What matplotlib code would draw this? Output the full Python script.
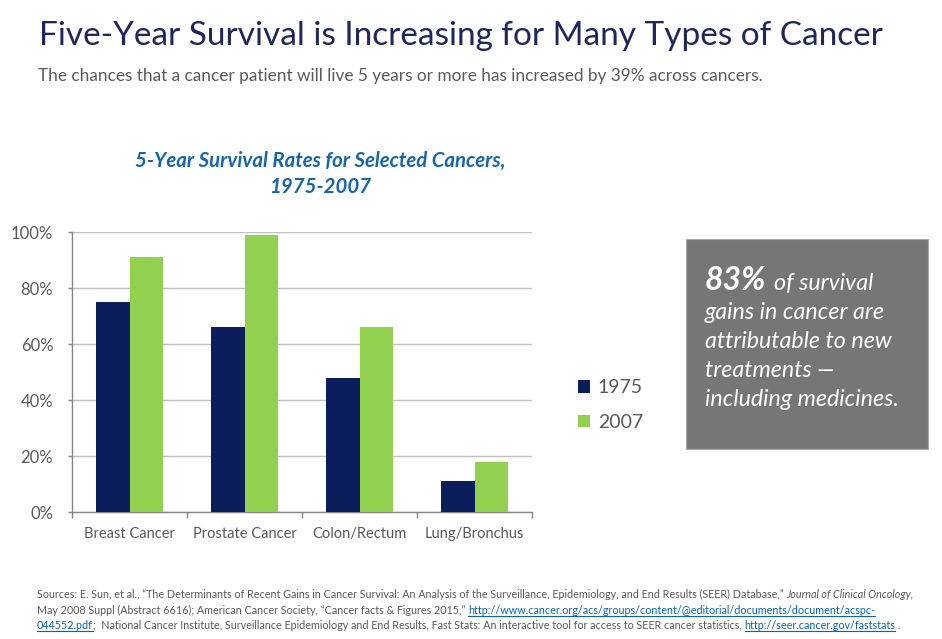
import matplotlib
matplotlib.use("Agg")
import matplotlib.pyplot as plt
import numpy as np
from matplotlib.transforms import IdentityTransform
from matplotlib.lines import Line2D
from matplotlib.patches import Rectangle

# ---------------- data ----------------
categories = ["Breast Cancer", "Prostate Cancer", "Colon/Rectum", "Lung/Bronchus"]
series_names = ["1975", "2007"]
rate_1975 = [75, 66, 48, 11]
rate_2007 = [91, 99, 66, 18]
y_ticks = [0, 20, 40, 60, 80, 100]
y_tick_labels = ["0%", "20%", "40%", "60%", "80%", "100%"]

title = "Five-Year Survival is Increasing for Many Types of Cancer"
subtitle = "The chances that a cancer patient will live 5 years or more has increased by 39% across cancers."
chart_title = ["5-Year Survival Rates for Selected Cancers,", "1975-2007"]

# ---------------- figure ----------------
W, H = 942, 639
plt.rcParams['font.family'] = ['Lato', 'DejaVu Sans']
fig = plt.figure(figsize=(W / 100, H / 100), dpi=100)
fig.patch.set_facecolor('white')
renderer = fig.canvas.get_renderer()
PIX = IdentityTransform()

NAVY = '#0B1D5B'
GREEN = '#92D050'
GRAY_TXT = '#595959'
AXIS_GRAY = '#868686'


def ytop(y):
    return H - y


def fit_width(t, target):
    for _ in range(3):
        w = t.get_window_extent(renderer).width
        t.set_fontsize(t.get_fontsize() * target / w)


# titles
t = fig.text(39, ytop(45), title, transform=PIX, fontsize=27, color='#1F2660',
             va='baseline', ha='left')
fit_width(t, 843)
t = fig.text(38, ytop(81), subtitle, transform=PIX, fontsize=12.5, color=GRAY_TXT,
             va='baseline', ha='left')
fit_width(t, 725)

# chart title
t = fig.text(320, ytop(167), chart_title[0], transform=PIX, fontsize=13,
             color='#1565B0', fontweight='bold', fontstyle='italic',
             va='baseline', ha='center')
fit_width(t, 368)
fs_ct = t.get_fontsize()
fig.text(320, ytop(193), chart_title[1], transform=PIX, fontsize=fs_ct,
         color='#1565B0', fontweight='bold', fontstyle='italic',
         va='baseline', ha='center')

# ---------------- axes ----------------
ax = fig.add_axes([72 / W, 1 - 512.3 / H, 460 / W, 280 / H])
x = np.arange(len(categories))
bw = 0.287
bars1 = ax.bar(x - bw / 2, rate_1975, bw, color=NAVY, label=series_names[0], zorder=3)
bars2 = ax.bar(x + bw / 2, rate_2007, bw, color=GREEN, label=series_names[1], zorder=3)
ax.set_xlim(-0.5, len(categories) - 0.5)
ax.set_ylim(0, 100)
ax.set_yticks(y_ticks)
ax.set_yticklabels(y_tick_labels)
ax.yaxis.grid(True, color='#BFBFBF', lw=1)
ax.set_axisbelow(True)
for s in ['top', 'right']:
    ax.spines[s].set_visible(False)
for s in ['left', 'bottom']:
    ax.spines[s].set_color(AXIS_GRAY)
    ax.spines[s].set_linewidth(1)
ax.set_xticks(np.arange(-0.5, len(categories), 1))
ax.set_xticklabels([])
ax.set_xticks(x, minor=True)
ax.set_xticklabels(categories, minor=True)
ax.tick_params(axis='x', which='major', length=4, direction='out', color=AXIS_GRAY, width=1)
ax.tick_params(axis='x', which='minor', length=0, pad=10.5, labelsize=10.5, labelcolor=GRAY_TXT)
ax.tick_params(axis='y', length=3, direction='out', color=AXIS_GRAY, width=1, pad=10.5,
               labelsize=12, labelcolor=GRAY_TXT)

# legend
leg = ax.legend(handles=[bars1, bars2], labels=series_names, loc='center left',
                bbox_to_anchor=(578 / W, 1 - 405 / H), bbox_transform=fig.transFigure,
                frameon=False, fontsize=14, handlelength=0.62, handleheight=0.62,
                handletextpad=0.4, labelspacing=0.9, borderpad=0, borderaxespad=0)
for txt in leg.get_texts():
    txt.set_color(GRAY_TXT)

# ---------------- callout box ----------------
box = Rectangle((686, ytop(449)), 242, 210, transform=PIX, facecolor='#75767A',
                edgecolor='#A9A9A9', lw=0.8)
fig.add_artist(box)
box_lines = ["gains in cancer are", "attributable to new", "treatments \u2014",
             "including medicines."]
t = fig.text(705, ytop(319), box_lines[0], transform=PIX, fontsize=15, color='white',
             fontstyle='italic', va='baseline', ha='left')
fit_width(t, 179)
fs_box = t.get_fontsize()
for i, line in enumerate(box_lines[1:]):
    fig.text(705, ytop(319 + 29 * (i + 1)), line, transform=PIX, fontsize=fs_box,
             color='white', fontstyle='italic', va='baseline', ha='left')
t83 = fig.text(705, ytop(290), "83%", transform=PIX, fontsize=fs_box * 1.38, color='white',
               fontstyle='italic', fontweight='bold', va='baseline', ha='left')
bb = t83.get_window_extent(renderer)
fig.text(bb.x1 + 8, ytop(290), "of survival", transform=PIX, fontsize=fs_box, color='white',
         fontstyle='italic', va='baseline', ha='left')

# ---------------- sources ----------------
LINK = '#0563C1'
src_lines = [
    [("Sources: E. Sun, et al., \u201cThe Determinants of Recent Gains in Cancer Survival: An Analysis of the Surveillance, Epidemiology, and End Results (SEER) Database,\u201d ", 'n'),
     ("Journal of Clinical Oncology,", 'i')],
    [("May 2008 Suppl (Abstract 6616); American Cancer Society, \u201cCancer facts & Figures 2015,\u201d ", 'n'),
     ("http://www.cancer.org/acs/groups/content/@editorial/documents/document/acspc-", 'l')],
    [("044552.pdf", 'l'),
     (";  National Cancer Institute, Surveillance Epidemiology and End Results, Fast Stats: An interactive tool for access to SEER cancer statistics, ", 'n'),
     ("http://seer.cancer.gov/faststats", 'l'), (" .", 'n')],
]
src_base = [598, 614, 629]


def place(segs, x0, yb, fs):
    arts = []
    xc = x0
    for s, kind in segs:
        tt = fig.text(xc, ytop(yb), s, transform=PIX, fontsize=fs, va='baseline', ha='left',
                      color=LINK if kind == 'l' else GRAY_TXT,
                      fontstyle='italic' if kind == 'i' else 'normal')
        arts.append(tt)
        b = tt.get_window_extent(renderer)
        if kind == 'l':
            ln = Line2D([b.x0, b.x1], [ytop(yb) - 1.5, ytop(yb) - 1.5], transform=PIX,
                        color=LINK, lw=0.8)
            fig.add_artist(ln)
            arts.append(ln)
        xc = b.x1
    return arts, xc


fs_src = 7.0
arts, xend = place(src_lines[0], 37, src_base[0], fs_src)
fs_src = fs_src * (918 - 37) / (xend - 37)
for a in arts:
    a.remove()
for segs, yb in zip(src_lines, src_base):
    place(segs, 37, yb, fs_src)

fig.savefig("out.png", dpi=100, facecolor='white')
